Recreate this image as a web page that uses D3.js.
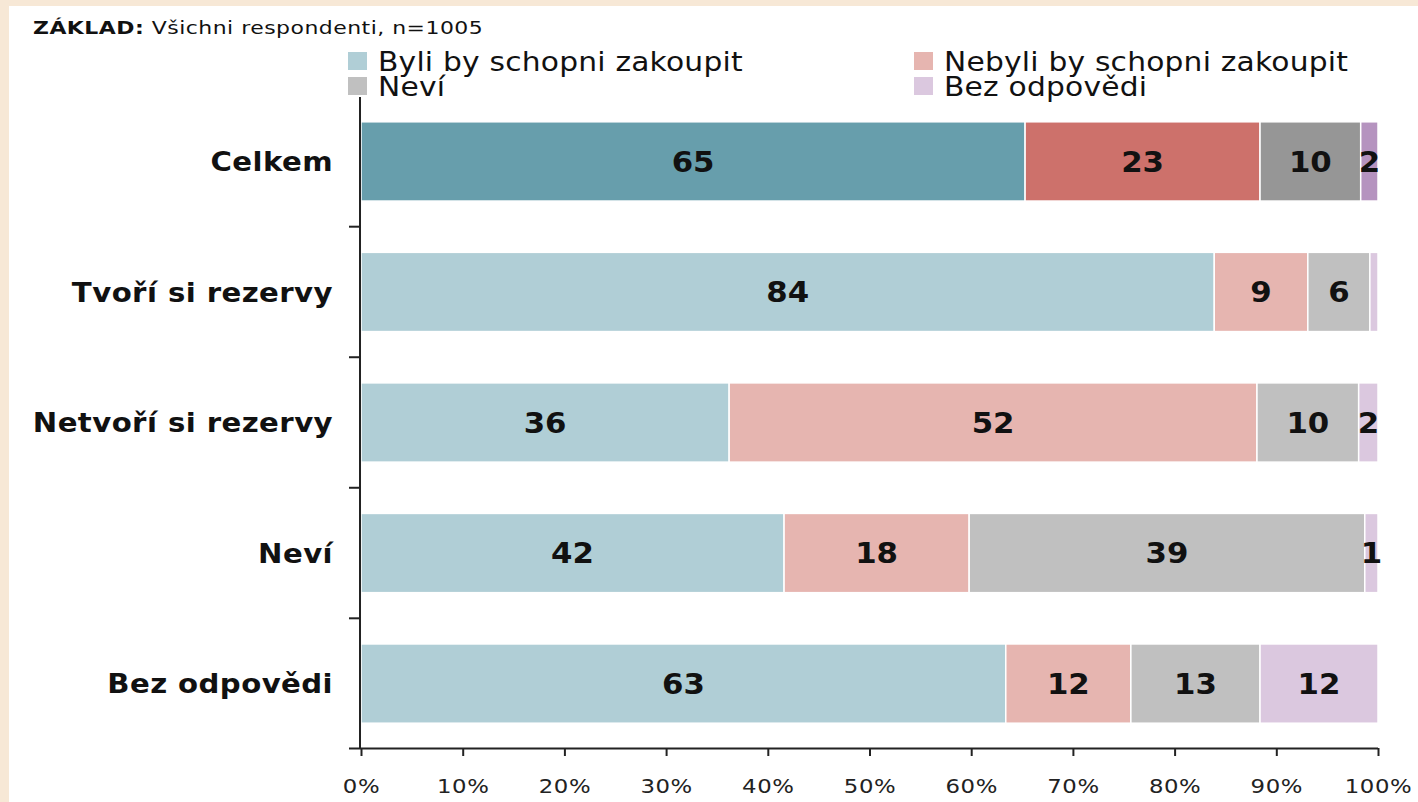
<!DOCTYPE html>
<html lang="cs">
<head>
    <meta charset="UTF-8">
    <script src="https://d3js.org/d3.v7.min.js"></script>
    <title>Byli by schopni zakoupit</title>
    <style>
        html, body {
            margin: 0px;
            padding: 0px;
            background-color: #f7e8d6;
            font-family: "DejaVu Sans", Verdana, sans-serif;
        }
        svg { display: block; }
    </style>
</head>
<body>
    <div id="chart"></div>
    <script>
        // data
        let categories = ['Celkem', 'Tvoří si rezervy', 'Netvoří si rezervy', 'Neví', 'Bez odpovědi'];
        let seriesNames = ['Byli by schopni zakoupit', 'Nebyli by schopni zakoupit', 'Neví', 'Bez odpovědi'];
        let byli = [65.3, 83.9, 36.2, 41.6, 63.4];
        let nebyli = [23.1, 9.2, 51.9, 18.2, 12.3];
        let nevi = [9.9, 6.1, 10.0, 38.9, 12.7];
        let bezOdp = [1.7, 0.8, 1.9, 1.3, 11.6];
        let tickValues = [0, 10, 20, 30, 40, 50, 60, 70, 80, 90, 100];

        let colorsLight = ['#b0ced6', '#e6b5b0', '#c0c0c0', '#dbc8df'];
        let colorsDark = ['#679eac', '#cd716b', '#969696', '#b593bf'];

        let width = 1418, height = 802;
        let margin = { top: 97, right: 40, bottom: 54, left: 361 };

        let svg = d3.select('#chart').append('svg')
            .attr('width', width).attr('height', height);

        // white panel over the beige frame
        svg.append('rect')
            .attr('x', 9).attr('y', 6)
            .attr('width', width - 9).attr('height', height - 6)
            .attr('fill', '#fff');

        let x = d3.scaleLinear().domain([0, 100]).range([margin.left, 1378]);
        let y = d3.scaleBand().domain(categories)
            .range([margin.top, height - margin.bottom])
            .paddingInner(0.393).paddingOuter(0.19);

        let rows = categories.map((c, i) => {
            let vals = [byli[i], nebyli[i], nevi[i], bezOdp[i]];
            let start = 0;
            return vals.map((v, k) => {
                let seg = { cat: c, row: i, k: k, x0: start, x1: start + v, v: v };
                start += v;
                return seg;
            });
        });

        let g = svg.append('g');
        let rowG = g.selectAll('g.row')
            .data(rows)
            .join('g')
            .attr('class', 'row');

        rowG.selectAll('rect')
            .data(d => d)
            .join('rect')
            .attr('x', d => x(d.x0))
            .attr('y', d => y(d.cat))
            .attr('width', d => x(d.x1) - x(d.x0))
            .attr('height', y.bandwidth())
            .attr('fill', d => d.row === 0 ? colorsDark[d.k] : colorsLight[d.k])
            .attr('stroke', '#fff')
            .attr('stroke-width', 1.5);

        // the original font (Verdana) is wider than DejaVu, so text is stretched a bit
        rowG.selectAll('text')
            .data(d => d.filter(s => s.v >= 1))
            .join('text')
            .attr('transform', d => `translate(${(x(d.x0) + x(d.x1)) / 2},${y(d.cat) + y.bandwidth() / 2}) scale(1.1,1)`)
            .attr('dy', '0.36em')
            .attr('text-anchor', 'middle')
            .attr('font-size', 28)
            .attr('font-weight', 'bold')
            .attr('fill', '#111')
            .text(d => Math.round(d.v));

        // x axis
        let axisY = height - margin.bottom;
        let xAxis = d3.axisBottom(x)
            .tickValues(tickValues)
            .tickFormat(d => d + '%')
            .tickSize(8)
            .tickPadding(24);
        let xg = svg.append('g')
            .attr('transform', `translate(0,${axisY})`)
            .call(xAxis);
        xg.select('.domain').attr('d', `M${margin.left - 12},0.5H${x(100)}`).attr('stroke', '#222').attr('stroke-width', 2);
        xg.selectAll('.tick line').attr('stroke', '#222').attr('stroke-width', 2);
        xg.selectAll('.tick text')
            .attr('font-size', 19)
            .attr('transform', 'scale(1.2,1)')
            .attr('letter-spacing', 0.5)
            .attr('font-family', '"DejaVu Sans", Verdana, sans-serif')
            .attr('fill', '#222');

        // y axis with ticks between categories
        svg.append('line')
            .attr('x1', margin.left - 1).attr('x2', margin.left - 1)
            .attr('y1', margin.top).attr('y2', axisY)
            .attr('stroke', '#222').attr('stroke-width', 2);
        let step = y.step();
        svg.selectAll('line.ytick')
            .data(categories.slice(0, -1))
            .join('line')
            .attr('class', 'ytick')
            .attr('x1', margin.left - 12).attr('x2', margin.left)
            .attr('y1', d => y(d) + y.bandwidth() + (step - y.bandwidth()) / 2)
            .attr('y2', d => y(d) + y.bandwidth() + (step - y.bandwidth()) / 2)
            .attr('stroke', '#222').attr('stroke-width', 2);

        svg.selectAll('text.cat')
            .data(categories)
            .join('text')
            .attr('class', 'cat')
            .attr('transform', d => `translate(333,${y(d) + y.bandwidth() / 2}) scale(1.08,1)`)
            .attr('dy', '0.36em')
            .attr('text-anchor', 'end')
            .attr('font-size', 27)
            .attr('font-weight', 'bold')
            .attr('letter-spacing', 0.4)
            .attr('fill', '#111')
            .text(d => d);

        // title
        let title = svg.append('text')
            .attr('transform', 'translate(33,34) scale(1.22,1)')
            .attr('font-size', 18)
            .attr('letter-spacing', 0.4)
            .attr('fill', '#111');
        title.append('tspan').attr('font-weight', 'bold').text('ZÁKLAD:');
        title.append('tspan').text(' Všichni respondenti, n=1005');

        // legend
        let legendPos = [[348, 52], [914, 52], [348, 77], [914, 77]];
        let legendOrder = [0, 1, 2, 3];
        let leg = svg.selectAll('g.legend')
            .data(legendOrder)
            .join('g')
            .attr('class', 'legend')
            .attr('transform', k => `translate(${legendPos[k][0]},${legendPos[k][1]})`);
        leg.append('rect')
            .attr('width', 19).attr('height', 18)
            .attr('fill', k => colorsLight[k]);
        leg.append('text')
            .attr('transform', 'translate(30,19) scale(1.1,1)')
            .attr('font-size', 27)
            .attr('letter-spacing', 0.2)
            .attr('fill', '#111')
            .text(k => seriesNames[k]);
    </script>
</body>
</html>
